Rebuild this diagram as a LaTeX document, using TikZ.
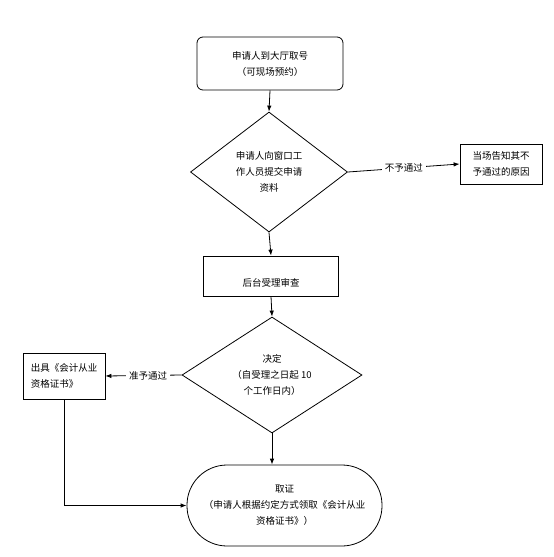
\documentclass[tikz,border=0pt]{standalone}
\usepackage{fontspec}
\setmainfont{Noto Sans CJK SC}
\usetikzlibrary{shapes.geometric,arrows.meta}
\begin{document}
\begin{tikzpicture}[x=1pt,y=-1pt,
  every node/.style={font=\fontsize{9.5pt}{16pt}\selectfont, inner sep=0pt, align=center},
  boxr/.style={draw, line width=0.8pt, rounded corners=6pt},
  box/.style={draw, line width=0.8pt},
  dia/.style={draw, line width=0.8pt, diamond, shape aspect=1.3},
  lbl/.style={fill=white, inner xsep=3pt},
  arr/.style={line width=0.8pt, -{Latex[length=6pt,width=4.5pt]}},
  ln/.style={line width=0.8pt}]
\useasboundingbox (0,0) rectangle (554,557);
\fill[white] (0,0) rectangle (554,557);
\node[boxr, minimum width=146pt, minimum height=53pt] (b1) at (270,63.5) {申请人到大厅取号\\（可现场预约）};
\node[dia, minimum width=157pt, minimum height=120pt] (d1) at (269,172) {申请人向窗口工\\作人员提交申请\\资料};
\node[box, minimum width=82pt, minimum height=40pt] (r1) at (501,164) {当场告知其不\\予通过的原因};
\node[box, minimum width=135pt, minimum height=40pt] (b3) at (271,276) {};
\node (b3t) at (271,283) {后台受理审查};
\node[dia, minimum width=180pt, minimum height=116pt] (d2) at (272,375) {决定\\（自受理之日起 10\\个工作日内）};
\node[box, minimum width=82pt, minimum height=46pt, align=left] (lb) at (64,376) {出具《会计从业\\资格证书》};
\node[draw, line width=0.8pt, rounded corners=40pt, minimum width=195pt, minimum height=81pt] (ov) at (284.5,505.5) {取证\\（申请人根据约定方式领取《会计从业\\资格证书》）};
\draw[arr] (b1.south) -- (d1.north);
\draw[arr] (d1.east) -- node[lbl] {不予通过} (r1.west);
\draw[arr] (d1.south) -- (b3.north);
\draw[arr] (b3.south) -- (d2.north);
\draw[arr] (d2.west) -- node[lbl, pos=0.44] {准予通过} (lb.east);
\draw[arr] (d2.south) -- (d2.south |- ov.north);
\draw[arr] (lb.south) |- (ov.west);
\end{tikzpicture}
\end{document}
